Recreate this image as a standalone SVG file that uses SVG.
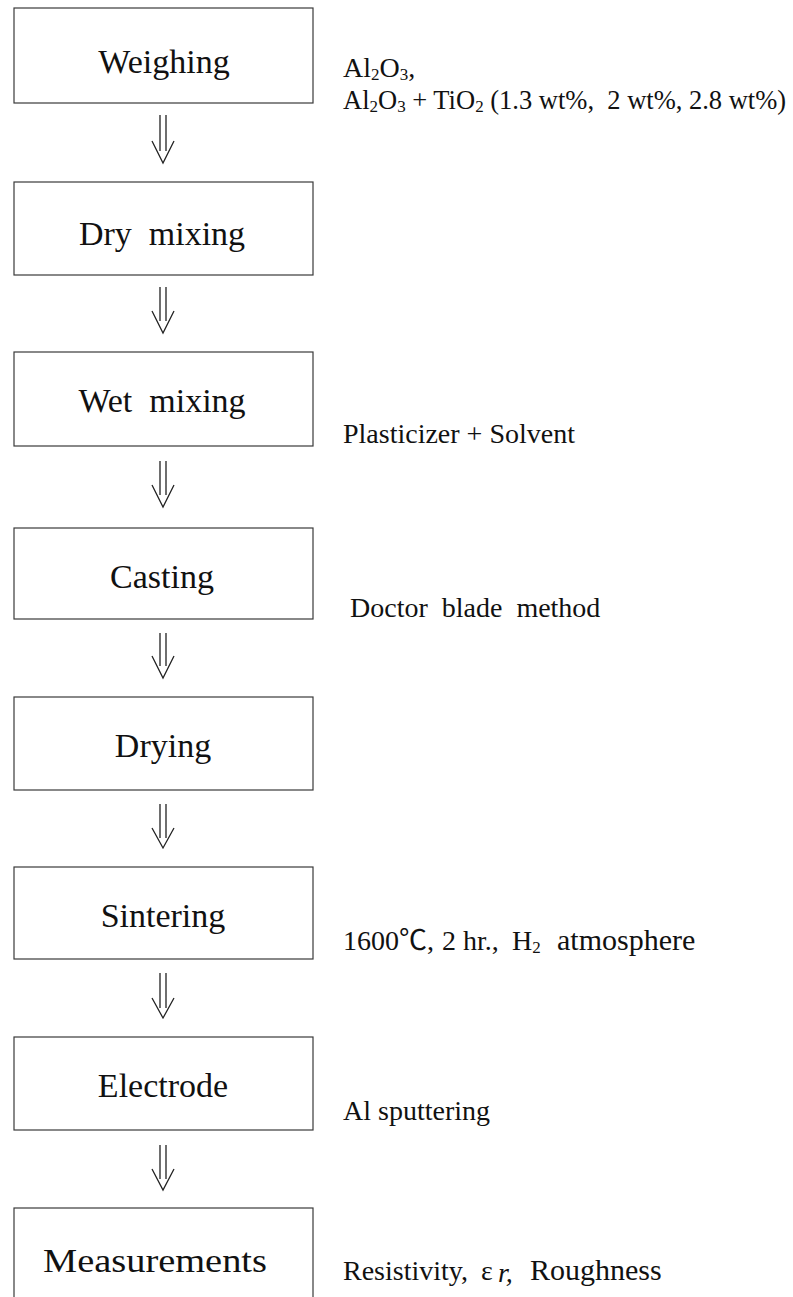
<svg xmlns="http://www.w3.org/2000/svg" width="793" height="1297" viewBox="0 0 793 1297">
<style>
.box{fill:#fff;stroke:#3a3a3a;stroke-width:1.2}
.lbl{font-family:"Liberation Serif","Times New Roman",serif;font-size:34px;fill:#111;text-anchor:middle}
.ann{font-family:"Liberation Serif","Times New Roman","Noto Sans CJK KR",serif;font-size:28px;fill:#111}
.big{font-size:30px}
.sub{font-size:17px}
.arr{fill:none;stroke:#222;stroke-width:1.3}
</style>
<rect width="793" height="1297" fill="#fff"/>
<g id="n1"><rect class="box" x="14" y="8" width="299" height="95"/><text class="lbl" x="164" y="73">Weighing</text></g>
<g id="n2"><rect class="box" x="14" y="182" width="299" height="93"/><text class="lbl" x="162" y="245" xml:space="preserve">Dry  mixing</text></g>
<g id="n3"><rect class="box" x="14" y="352" width="299" height="94"/><text class="lbl" x="162" y="412" xml:space="preserve">Wet  mixing</text></g>
<g id="n4"><rect class="box" x="14" y="528" width="299" height="91"/><text class="lbl" x="162" y="588">Casting</text></g>
<g id="n5"><rect class="box" x="14" y="697" width="299" height="93"/><text class="lbl" x="163" y="757">Drying</text></g>
<g id="n6"><rect class="box" x="14" y="867" width="299" height="92"/><text class="lbl" x="163" y="927">Sintering</text></g>
<g id="n7"><rect class="box" x="14" y="1037" width="299" height="93"/><text class="lbl" x="163" y="1097">Electrode</text></g>
<g id="n8"><rect class="box" x="14" y="1208" width="299" height="110"/><text class="lbl" x="155" y="1272" textLength="224" lengthAdjust="spacingAndGlyphs">Measurements</text></g>
<g id="annotations">
<text class="ann" x="343" y="77">Al<tspan class="sub" dy="3">2</tspan><tspan dy="-3">O</tspan><tspan class="sub" dy="3">3</tspan><tspan dy="-3">,</tspan></text>
<text class="ann" x="343" y="109" style="font-size:26.5px" xml:space="preserve">Al<tspan class="sub" dy="3">2</tspan><tspan dy="-3">O</tspan><tspan class="sub" dy="3">3</tspan><tspan dy="-3"> + TiO</tspan><tspan class="sub" dy="3">2</tspan><tspan dy="-3"> (1.3 wt%,  2 wt%, 2.8 wt%)</tspan></text>
<text class="ann" x="343" y="443" xml:space="preserve">Plasticizer + Solvent</text>
<text class="ann" x="350" y="617" xml:space="preserve">Doctor  blade  method</text>
<text class="ann" x="343" y="950">1600℃,</text>
<text class="ann" x="442" y="950">2 hr.,</text>
<text class="ann" x="512" y="950">H<tspan class="sub" dy="3">2</tspan></text>
<text class="ann big" x="557" y="950">atmosphere</text>
<text class="ann" x="343" y="1120" xml:space="preserve">Al sputtering</text>
<text class="ann" x="343" y="1280">Resistivity,</text>
<text class="ann" x="481" y="1280">ε</text>
<text class="ann" x="498" y="1282" font-style="italic">r,</text>
<text class="ann big" x="530" y="1280">Roughness</text>
</g>
<g id="connectors">
<g transform="translate(0,115)"><path class="arr" d="M160 0V36M166 0V36M152 26L163 48L174 26"/></g>
<g transform="translate(0,287)"><path class="arr" d="M160 0V34M166 0V34M152 24L163 46L174 24"/></g>
<g transform="translate(0,461)"><path class="arr" d="M160 0V34M166 0V34M152 24L163 46L174 24"/></g>
<g transform="translate(0,633)"><path class="arr" d="M160 0V33M166 0V33M152 23L163 45L174 23"/></g>
<g transform="translate(0,804)"><path class="arr" d="M160 0V34M166 0V34M152 24L163 44L174 24"/></g>
<g transform="translate(0,973)"><path class="arr" d="M160 0V35M166 0V35M152 25L163 45L174 25"/></g>
<g transform="translate(0,1145)"><path class="arr" d="M160 0V34M166 0V34M152 24L163 45L174 24"/></g>
</g>
</svg>
